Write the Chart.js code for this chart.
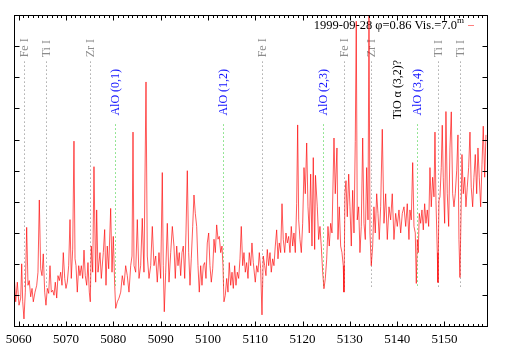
<!DOCTYPE html>
<html>
<head>
<meta charset="utf-8">
<script src="https://cdn.jsdelivr.net/npm/chart.js@4.4.0/dist/chart.umd.min.js"></script>
<style>
  body { margin: 0; background: #fff; }
  canvas { display: block; }
</style>
</head>
<body>
<canvas id="spec" width="509" height="356"></canvas>
<script>
// wavelength in Angstrom, flux in arbitrary units
const wavelength = [
  5059.00,5059.36,5059.70,5060.06,5060.42,5060.63,5060.84,5061.11,5061.39,5061.68,
  5061.96,5062.23,5062.53,5062.81,5063.08,5063.44,5063.80,5064.07,5064.35,5064.64,
  5064.92,5065.19,5065.49,5065.76,5066.04,5066.34,5066.61,5066.89,5067.18,5067.46,
  5067.73,5068.03,5068.30,5068.58,5068.87,5069.15,5069.42,5069.72,5069.99,5070.27,
  5070.56,5070.84,5071.11,5071.41,5071.68,5071.90,5072.11,5072.38,5072.68,5072.95,
  5073.23,5073.52,5073.80,5074.07,5074.37,5074.64,5074.92,5075.13,5075.34,5075.64,
  5075.91,5076.27,5076.48,5076.76,5077.18,5077.46,5077.88,5078.17,5078.45,5078.72,
  5079.02,5079.44,5079.72,5079.99,5080.29,5080.50,5080.84,5081.20,5081.56,5081.89,
  5082.25,5082.61,5082.95,5083.31,5083.67,5083.95,5084.16,5084.37,5084.73,5085.07,
  5085.43,5085.78,5086.12,5086.48,5086.91,5087.18,5087.54,5087.90,5088.24,5088.60,
  5088.96,5089.29,5089.65,5090.01,5090.35,5090.56,5090.77,5091.07,5091.41,5091.77,
  5092.13,5092.47,5092.82,5093.10,5093.40,5093.67,5093.94,5094.24,5094.52,5094.79,
  5095.09,5095.36,5095.64,5095.93,5096.21,5096.48,5096.78,5097.05,5097.33,5097.62,
  5097.90,5098.17,5098.47,5098.74,5099.02,5099.31,5099.59,5099.86,5100.16,5100.43,
  5100.71,5101.01,5101.28,5101.56,5101.85,5102.13,5102.40,5102.70,5102.97,5103.18,
  5103.39,5103.67,5103.97,5104.24,5104.51,5104.81,5105.09,5105.36,5105.66,5105.93,
  5106.21,5106.50,5106.78,5107.05,5107.35,5107.62,5107.90,5108.19,5108.47,5108.74,
  5109.04,5109.31,5109.59,5110.01,5110.31,5110.58,5110.86,5111.15,5111.43,5111.70,
  5112.00,5112.27,5112.55,5112.84,5113.12,5113.39,5113.69,5113.96,5114.24,5114.53,
  5114.81,5115.08,5115.38,5115.66,5115.93,5116.23,5116.50,5116.78,5117.07,5117.35,
  5117.62,5117.92,5118.19,5118.47,5118.76,5118.97,5119.19,5119.46,5119.74,5120.03,
  5120.31,5120.58,5120.88,5121.15,5121.43,5121.72,5122.00,5122.27,5122.57,5122.74,
  5123.12,5123.41,5123.69,5123.96,5124.26,5124.53,5124.81,5125.11,5125.38,5125.65,
  5125.95,5126.23,5126.65,5126.92,5127.28,5127.49,5127.77,5128.06,5128.34,5128.61,
  5128.76,5128.97,5129.19,5129.46,5129.76,5130.03,5130.31,5130.60,5130.88,5131.15,
  5131.36,5131.57,5131.87,5132.14,5132.42,5132.72,5132.99,5133.27,5133.56,5133.84,
  5134.05,5134.26,5134.53,5134.83,5135.10,5135.38,5135.68,5135.95,5136.22,5136.52,
  5136.86,5137.22,5137.58,5137.92,5138.28,5138.63,5138.97,5139.33,5139.69,5140.03,
  5140.39,5140.75,5141.09,5141.45,5141.81,5142.14,5142.50,5142.71,5142.99,5143.29,
  5143.56,5143.84,5144.05,5144.26,5144.47,5144.68,5144.98,5145.25,5145.53,5145.82,
  5146.10,5146.37,5146.67,5146.94,5147.22,5147.51,5147.79,5148.00,5148.21,5148.49,
  5148.63,5148.85,5149.06,5149.33,5149.54,5149.75,5150.05,5150.32,5150.60,5150.90,
  5151.17,5151.45,5151.74,5152.02,5152.29,5152.59,5152.86,5153.07,5153.28,5153.50,
  5153.71,5153.98,5154.28,5154.55,5154.83,5155.12,5155.40,5155.67,5155.97,5156.24,
  5156.52,5156.82,5157.09,5157.36,5157.66,5157.94,5158.21,5158.51,5158.78
];
const flux = [
  1.74,0.79,1.42,0.68,0.91,2.01,0.79,0.24,1.10,3.18,
  1.32,1.47,0.95,1.22,0.79,1.10,1.32,1.74,4.06,1.85,
  1.63,2.33,1.10,0.68,1.22,1.06,1.95,1.10,1.16,1.00,
  1.42,0.91,1.63,1.47,1.74,1.32,2.37,1.54,1.22,1.42,
  1.95,3.43,1.54,2.48,5.95,2.17,1.95,1.10,1.95,1.63,
  1.95,1.54,2.45,1.63,1.32,2.05,1.10,0.79,2.58,1.74,
  5.13,1.42,3.74,1.74,2.37,1.54,2.37,3.11,1.32,2.58,
  1.85,3.79,1.74,2.89,1.32,0.58,0.79,0.91,1.10,1.63,
  1.32,1.95,1.63,1.10,1.95,2.26,6.24,1.95,1.74,3.43,
  1.54,1.95,3.47,1.74,7.85,2.26,1.54,1.95,3.21,1.95,
  2.26,1.42,2.37,1.54,4.94,1.95,0.47,1.74,3.31,1.42,
  2.37,3.21,2.58,1.54,2.58,1.95,2.37,1.63,2.37,2.58,
  1.54,3.00,5.00,2.37,1.32,2.17,3.21,4.22,3.63,3.21,
  1.95,1.10,1.95,1.32,1.95,2.05,1.54,2.68,3.00,1.95,
  1.42,1.85,2.80,2.37,3.26,2.80,2.89,2.37,2.58,1.95,
  0.79,1.00,1.54,1.10,2.05,1.32,1.74,1.22,1.95,1.32,
  1.74,1.54,2.17,3.21,1.95,2.37,1.74,2.05,1.54,2.37,
  1.95,2.68,2.05,1.42,1.95,1.74,2.37,1.85,0.37,2.26,
  1.95,1.63,2.47,1.95,2.37,1.74,2.17,1.95,2.58,3.10,
  2.17,2.68,2.37,3.94,2.79,2.37,3.00,2.68,2.89,2.37,
  3.21,2.58,3.00,2.37,3.94,6.47,3.42,2.79,2.37,3.31,
  5.10,4.26,5.89,3.84,3.00,4.89,2.58,5.42,2.47,4.85,
  3.84,2.79,3.21,2.58,1.74,1.21,1.53,2.16,3.21,2.58,
  3.31,3.00,6.05,4.26,5.73,2.79,3.84,2.58,2.37,1.95,
  1.10,4.26,4.68,3.52,4.89,3.84,2.58,4.37,3.00,5.94,
  9.80,3.42,3.84,2.37,3.21,6.05,3.31,2.79,5.10,3.42,
  10.30,3.00,1.95,2.58,3.84,3.00,4.26,3.63,2.79,3.84,
  6.33,3.31,4.26,2.79,3.84,3.42,4.26,2.79,3.63,3.21,
  3.74,3.00,3.63,3.84,3.21,3.94,2.79,3.74,3.42,5.26,
  3.21,3.00,1.38,2.79,2.37,3.63,3.31,3.74,3.10,3.94,
  3.31,3.74,3.21,5.10,3.84,4.79,4.16,6.24,4.05,2.37,
  1.41,4.05,4.16,5.10,6.46,4.79,3.31,6.90,4.26,3.21,
  5.73,6.89,4.26,3.84,4.26,5.00,6.15,2.79,1.57,3.52,
  5.52,4.26,4.79,3.84,4.47,5.10,6.24,4.47,3.84,4.79,
  5.52,4.26,5.73,4.79,3.84,5.21,6.43,4.79,6.15
];
const xTickLabels = [5060, 5070, 5080, 5090, 5100, 5110, 5120, 5130, 5140, 5150];
const yTicks = [0, 1, 2, 3, 4, 5, 6, 7, 8, 9, 10];

// line identifications
const lineNames = ['Fe I', 'Ti I', 'Zr I', 'AlO (0,1)', 'AlO (1,2)', 'Fe I', 'AlO (2,3)',
                   'Fe I', 'Zr I', 'TiO \u03b1 (3,2)?', 'AlO (3,4)', 'Ti I', 'Ti I'];
const lineWaves = [5061.11, 5065.76, 5075.07, 5080.35, 5103.25, 5111.50, 5124.40,
                   5128.80, 5134.47, 5140.00, 5144.10, 5148.57, 5153.30];
const lineKinds = ['atom', 'atom', 'atom', 'AlO', 'AlO', 'atom', 'AlO',
                   'atom', 'atom', 'TiO', 'AlO', 'atom', 'atom'];

const legendText = '1999-09-28 \u03c6=0.86 Vis.=7.0';

const serif = '"Liberation Serif", "DejaVu Serif", serif';

// top = where the dotted marker starts, text = where the rotated label starts
const kindStyle = {
  atom: { color: '#8c8c8c', line: 'rgba(150,150,150,0.8)', top: 8.51, text: 8.64 },
  AlO:  { color: '#1010ff', line: 'rgba(90,215,90,0.85)', top: 6.49, text: 6.77 },
  TiO:  { color: '#000000', line: null, text: 6.65 }
};
const markerBottom = 1.22;

const decor = {
  id: 'decor',
  beforeDatasetsDraw(chart) {
    const ctx = chart.ctx, a = chart.chartArea;
    const x = chart.scales.x, y = chart.scales.y;
    ctx.save();
    // dotted markers
    ctx.lineWidth = 1;
    ctx.setLineDash([1.5, 2.5]);
    lineWaves.forEach((w, i) => {
      const st = kindStyle[lineKinds[i]];
      if (!st.line) return;
      const px = Math.round(x.getPixelForValue(w)) + 0.5;
      ctx.strokeStyle = st.line;
      ctx.beginPath();
      ctx.moveTo(px, y.getPixelForValue(st.top));
      ctx.lineTo(px, y.getPixelForValue(markerBottom));
      ctx.stroke();
    });
    ctx.setLineDash([]);

    // rotated labels
    ctx.font = '12px ' + serif;
    ctx.textAlign = 'left';
    ctx.textBaseline = 'middle';
    lineWaves.forEach((w, i) => {
      const st = kindStyle[lineKinds[i]];
      ctx.save();
      ctx.translate(x.getPixelForValue(w) + 1, y.getPixelForValue(st.text));
      ctx.rotate(-Math.PI / 2);
      ctx.fillStyle = st.color;
      ctx.fillText(lineNames[i], 0, 0);
      ctx.restore();
    });

    // key, top right
    const label = chart.data.datasets[0].label;
    const ex = a.right - 23, by = a.top + 14;
    ctx.fillStyle = '#000';
    ctx.textBaseline = 'alphabetic';
    ctx.textAlign = 'right';
    ctx.font = '9px ' + serif;
    const mw = ctx.measureText('m').width;
    ctx.fillText('m', ex, by - 6);
    ctx.font = '12.5px ' + serif;
    ctx.fillText(label, ex - mw, by);
    ctx.strokeStyle = 'rgba(255,0,0,0.5)';
    ctx.lineWidth = 1;
    ctx.beginPath();
    ctx.moveTo(a.right - 19, a.top + 10.5);
    ctx.lineTo(a.right - 13, a.top + 10.5);
    ctx.stroke();
    ctx.restore();
  },
  afterDraw(chart) {
    const ctx = chart.ctx, a = chart.chartArea;
    const x = chart.scales.x, y = chart.scales.y;
    const L = Math.round(a.left) + 0.5, R = Math.round(a.right) + 0.5;
    const T = Math.round(a.top) + 0.5, B = Math.round(a.bottom) + 0.5;
    ctx.save();
    ctx.strokeStyle = '#000';
    ctx.lineWidth = 1;
    ctx.strokeRect(L, T, R - L, B - T);
    ctx.beginPath();
    // minor x ticks every Angstrom, major ones at the labels
    for (let v = Math.ceil(x.min); v <= x.max; v++) {
      const px = Math.round(x.getPixelForValue(v)) + 0.5;
      const len = xTickLabels.includes(v) ? 5 : 2.5;
      ctx.moveTo(px, B); ctx.lineTo(px, B - len);
      ctx.moveTo(px, T); ctx.lineTo(px, T + len);
    }
    yTicks.forEach(v => {
      const py = Math.round(y.getPixelForValue(v)) + 0.5;
      ctx.moveTo(L, py); ctx.lineTo(L + 5, py);
      ctx.moveTo(R, py); ctx.lineTo(R - 5, py);
    });
    ctx.stroke();
    ctx.restore();
  }
};

const ctx = document.getElementById('spec').getContext('2d');
new Chart(ctx, {
  type: 'line',
  data: {
    datasets: [{
      label: legendText,
      data: wavelength.map((w, i) => ({ x: w, y: flux[i] })),
      borderColor: 'rgba(255,0,0,0.65)',
      borderWidth: 1,
      pointRadius: 0,
      tension: 0,
      fill: false
    }]
  },
  options: {
    responsive: false,
    animation: false,
    devicePixelRatio: 1,
    layout: { padding: { left: 14, right: 22, top: 15, bottom: 4 } },
    plugins: { legend: { display: false }, tooltip: { enabled: false } },
    scales: {
      x: {
        type: 'linear',
        min: 5059,
        max: 5159,
        afterBuildTicks: s => { s.ticks = xTickLabels.map(v => ({ value: v })); },
        grid: { display: false, drawTicks: false },
        border: { display: false },
        ticks: {
          color: '#000',
          font: { family: serif, size: 13 },
          padding: 5,
          maxRotation: 0,
          autoSkip: false,
          callback: v => String(v)
        }
      },
      y: { min: 0, max: 10, display: false }
    }
  },
  plugins: [decor]
});
</script>
</body>
</html>
